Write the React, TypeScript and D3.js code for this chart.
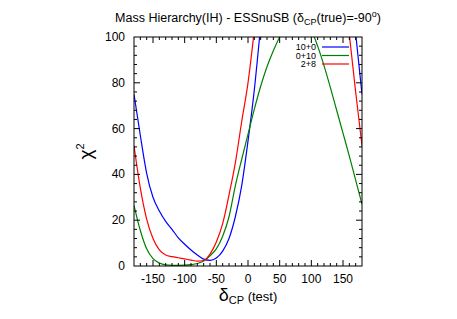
import React from 'react';
import * as d3 from 'd3';

// delta_CP (test) grid, degrees
const deltaCP = [
  -180, -170, -160, -150, -140, -130, -120, -110, -100, -90, -80, -70, -60, -50, -40, -30, -20, -10,
  0, 10, 20, 30, 40, 50, 60, 70, 80, 90, 100, 110, 120, 130, 140, 150, 160, 170, 180,
];

// chi^2 per configuration (null = above the frame)
const chi10p0 = [
  75, 57, 40.5, 30, 24, 19.5, 16, 12.3, 9.5, 7, 4.8, 3, 2.5, 3.5, 6.5, 12, 21.5, 35,
  54.5, 77, 105, null, null, null, null, null, null, null, null, null, null, null, null, null, null, 101.5, 75,
];
const chi0p10 = [
  26.5, 15.5, 7.5, 3.2, 1.3, 0.5, 0.3, 0.3, 0.35, 0.6, 1.1, 2.2, 4.5, 7.5, 13, 21.5, 35, 46.5,
  57.5, 68.5, 78.5, 87, 94, 100, 105, 108, 108.5, 106.5, 103, 96, 87.5, 78, 68, 58, 48, 37.5, 27,
];
const chi2p8 = [
  52.5, 34, 20.5, 12, 7, 4.8, 4.1, 3.6, 3.1, 2.6, 2.1, 2.4, 5.2, 10.5, 18.5, 31, 45, 63,
  80, 103, null, null, null, null, null, null, null, null, null, null, null, null, null, null, 101, 76, 52.5,
];

const seriesNames = ['10+0', '0+10', '2+8'];
const seriesColors = ['#0000ff', '#008000', '#ff0000'];
const seriesValues = [chi10p0, chi0p10, chi2p8];

const xTickLabels = [-150, -100, -50, 0, 50, 100, 150];
const yTickLabels = [0, 20, 40, 60, 80, 100];

const W = 457;
const H = 319;
const margin = { top: 37, right: 95, bottom: 53, left: 134 };
const font = '"Liberation Sans", Arial, Helvetica, sans-serif';

export default function App() {
  const innerW = W - margin.left - margin.right;
  const innerH = H - margin.top - margin.bottom;

  const x = d3.scaleLinear().domain([-180, 180]).range([0, innerW]);
  const y = d3.scaleLinear().domain([0, 100]).range([innerH, 0]);

  const line = d3
    .line<[number, number | null]>()
    .defined((d) => d[1] != null)
    .x((d) => x(d[0]))
    .y((d) => y(d[1] as number))
    .curve(d3.curveMonotoneX);

  const xMinor = d3.range(-170, 180, 10);
  const yMinor = d3.range(4, 100, 4);

  return (
    <svg width={W} height={H} style={{ position: 'absolute', left: 0, top: 0, background: '#fff' }} fontFamily={font}>
      <defs>
        <clipPath id="plot-clip">
          <rect x={0} y={0} width={innerW} height={innerH} />
        </clipPath>
      </defs>

      {/* title */}
      <text x={margin.left + innerW / 2} y={22} textAnchor="middle" fontSize={12.5} fill="#000">
        Mass Hierarchy(IH) - ESSnuSB (δ
        <tspan fontSize={9} dy={3}>CP</tspan>
        <tspan dy={-3}>(true)=-90</tspan>
        <tspan fontSize={9} dy={-5}>o</tspan>
        <tspan dy={5}>)</tspan>
      </text>

      <g transform={`translate(${margin.left},${margin.top})`}>
        {/* curves */}
        <g clipPath="url(#plot-clip)">
          {seriesValues.map((vals, i) => (
            <path
              key={seriesNames[i]}
              d={line(deltaCP.map((d, j) => [d, vals[j]] as [number, number | null])) || ''}
              fill="none"
              stroke={seriesColors[i]}
              strokeWidth={1.2}
            />
          ))}
        </g>

        {/* ticks */}
        <g stroke="#000" strokeWidth={1}>
          {xMinor.map((t) => {
            const major = xTickLabels.includes(t);
            const len = major ? 6 : 3;
            return (
              <g key={'x' + t}>
                <line x1={x(t)} x2={x(t)} y1={innerH} y2={innerH - len} />
                <line x1={x(t)} x2={x(t)} y1={0} y2={len} />
              </g>
            );
          })}
          {yMinor.map((t) => {
            const major = yTickLabels.includes(t);
            const len = major ? 6 : 3;
            return (
              <g key={'y' + t}>
                <line x1={0} x2={len} y1={y(t)} y2={y(t)} />
                <line x1={innerW} x2={innerW - len} y1={y(t)} y2={y(t)} />
              </g>
            );
          })}
        </g>

        {/* frame */}
        <rect x={0} y={0} width={innerW} height={innerH} fill="none" stroke="#000" strokeWidth={1} />

        {/* tick labels */}
        {xTickLabels.map((t) => (
          <text key={'xl' + t} x={x(t)} y={innerH + 17} textAnchor="middle" fontSize={12} fill="#000">
            {t}
          </text>
        ))}
        {yTickLabels.map((t) => (
          <text key={'yl' + t} x={-9} y={y(t) + 4} textAnchor="end" fontSize={12} fill="#000">
            {t}
          </text>
        ))}

        {/* legend */}
        {seriesNames.map((n, i) => (
          <g key={'lg' + n} transform={`translate(0,${10 + i * 8.5})`}>
            <text x={182} y={3} textAnchor="end" fontSize={9} fill="#000">
              {n}
            </text>
            <line x1={188} x2={215} y1={0} y2={0} stroke={seriesColors[i]} strokeWidth={1.2} />
          </g>
        ))}

        {/* axis labels */}
        <text x={innerW / 2} y={innerH + 35} textAnchor="middle" fontSize={13} fill="#000">
          <tspan fontSize={18}>δ</tspan>
          <tspan fontSize={11} dy={3}>CP</tspan>
          <tspan dy={-3}> (test)</tspan>
        </text>
        <text transform={`translate(-42,${innerH / 2}) rotate(-90)`} textAnchor="middle" fontSize={19} fill="#000">
          χ<tspan fontSize={11} dy={-8}>2</tspan>
        </text>
      </g>
    </svg>
  );
}
